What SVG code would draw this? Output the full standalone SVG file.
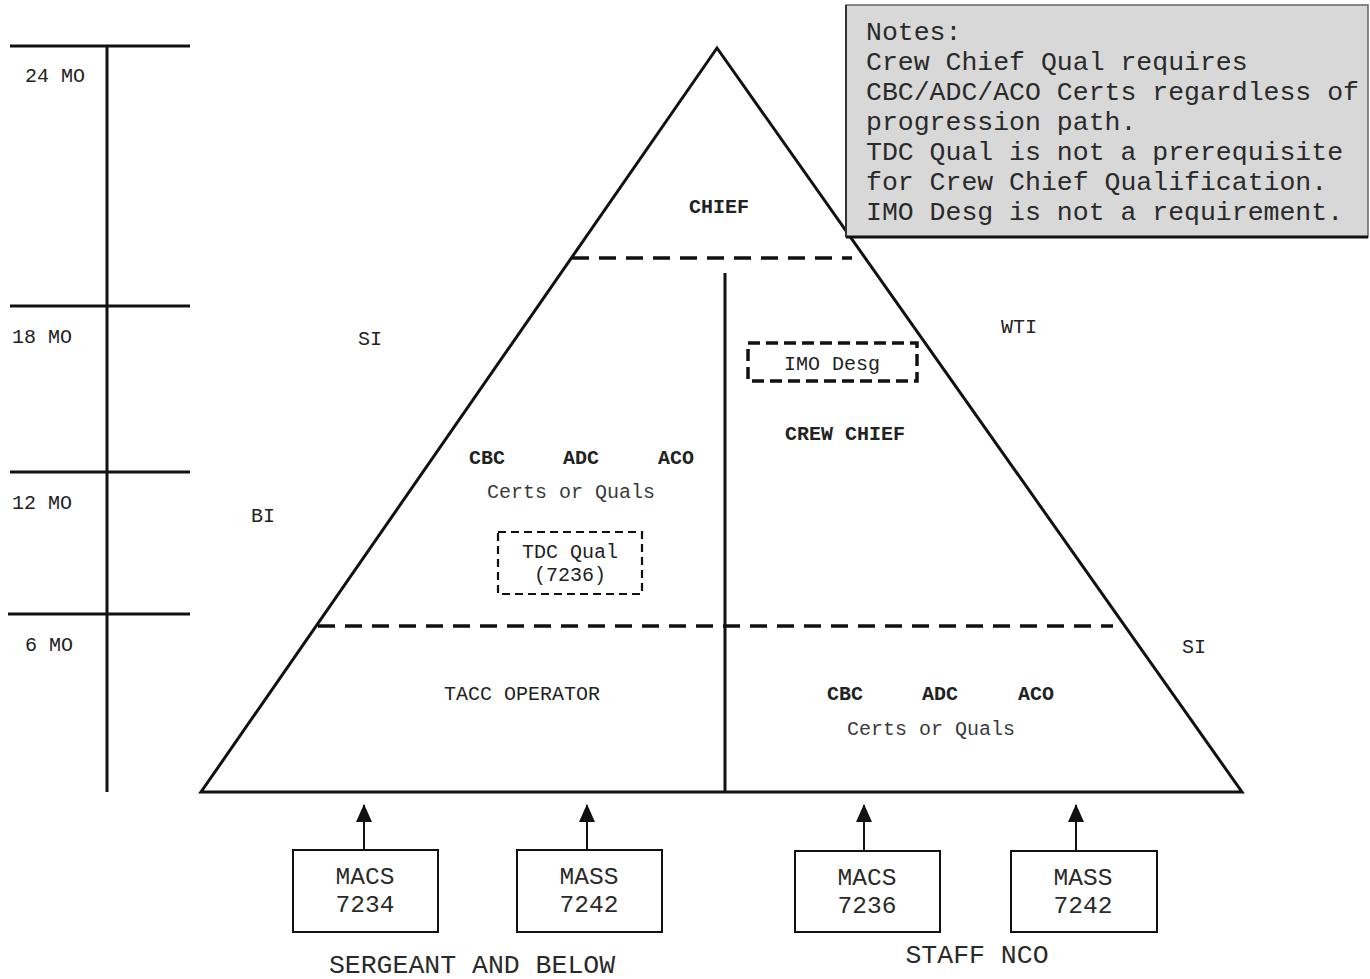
<svg xmlns="http://www.w3.org/2000/svg" width="1370" height="979" viewBox="0 0 1370 979">
<defs>
<marker id="arr" viewBox="0 0 18 16" refX="17" refY="8" markerWidth="18" markerHeight="16" markerUnits="userSpaceOnUse" orient="auto">
<path d="M0,0 L18,8 L0,16 Z" fill="#111"/>
</marker>
<style>
text{font-family:"Liberation Mono","Courier New",monospace;fill:#222}
.s{font-size:20px}
.b{font-size:20px;font-weight:bold}
.l{font-size:26.5px;fill:#2a2a2a}
.bx{font-size:24.5px;fill:#2a2a2a}
.m{text-anchor:middle}
.g{fill:#3a3a3a}
.ln{stroke:#111;stroke-width:3;fill:none}
.dash{stroke:#111;stroke-width:3.5;stroke-dasharray:17 10;fill:none}
.box{fill:#fff;stroke:#111;stroke-width:2}
.con{stroke:#111;stroke-width:2}
</style>
</defs>
<rect width="1370" height="979" fill="#fff"/>

<g id="timeline">
<line class="ln" x1="107" y1="46" x2="107" y2="792"/>
<line class="ln" x1="10" y1="46" x2="190" y2="46"/>
<line class="ln" x1="10" y1="306" x2="190" y2="306"/>
<line class="ln" x1="10" y1="472" x2="190" y2="472"/>
<line class="ln" x1="8" y1="614" x2="190" y2="614"/>
<text class="s" x="25" y="82">24 MO</text>
<text class="s" x="12" y="343">18 MO</text>
<text class="s" x="12" y="509">12 MO</text>
<text class="s" x="25" y="651">6 MO</text>
</g>

<g id="pyramid">
<path class="ln" d="M717,48 L1242,792 L201,792 Z" stroke-linejoin="miter"/>
<line class="dash" x1="572" y1="258" x2="852" y2="258"/>
<line class="dash" x1="318" y1="626" x2="1113" y2="626"/>
<line class="ln" x1="725" y1="273" x2="725" y2="792"/>
</g>

<g id="chief"><text class="b m" x="719" y="213">CHIEF</text></g>
<g id="si-left"><text class="s m" x="370" y="345">SI</text></g>
<g id="wti"><text class="s m" x="1019" y="333">WTI</text></g>
<g id="bi"><text class="s m" x="263" y="522">BI</text></g>
<g id="si-right"><text class="s m" x="1194" y="653">SI</text></g>

<g id="imo-desg">
<rect x="748" y="343" width="169" height="38" fill="none" stroke="#111" stroke-width="3.5" stroke-dasharray="12 6"/>
<text class="s m" x="832" y="370">IMO Desg</text>
</g>
<g id="crew-chief"><text class="b m" x="845" y="440">CREW CHIEF</text></g>

<g id="certs-upper">
<text class="b m" x="487" y="464">CBC</text>
<text class="b m" x="581" y="464">ADC</text>
<text class="b m" x="676" y="464">ACO</text>
<text class="s m g" x="571" y="498">Certs or Quals</text>
</g>

<g id="tdc-qual">
<rect x="498" y="532" width="144" height="62" fill="none" stroke="#111" stroke-width="2.2" stroke-dasharray="8 5"/>
<text class="s m" x="570" y="558">TDC Qual</text>
<text class="s m" x="570" y="581">(7236)</text>
</g>

<g id="tacc-operator"><text class="s m" x="522" y="700">TACC OPERATOR</text></g>

<g id="certs-lower">
<text class="b m" x="845" y="700">CBC</text>
<text class="b m" x="940" y="700">ADC</text>
<text class="b m" x="1036" y="700">ACO</text>
<text class="s m g" x="931" y="735">Certs or Quals</text>
</g>

<g id="notes">
<rect x="846" y="5" width="522" height="232" fill="#d8d8d8" stroke="#666" stroke-width="1.5"/>
<line x1="846" y1="237" x2="1368" y2="237" stroke="#111" stroke-width="3"/>
<line x1="846" y1="5" x2="846" y2="237" stroke="#333" stroke-width="2"/>
<text class="l" x="866" y="40">Notes:</text>
<text class="l" x="866" y="70">Crew Chief Qual requires</text>
<text class="l" x="866" y="100">CBC/ADC/ACO Certs regardless of</text>
<text class="l" x="866" y="130">progression path.</text>
<text class="l" x="866" y="160">TDC Qual is not a prerequisite</text>
<text class="l" x="866" y="190">for Crew Chief Qualification.</text>
<text class="l" x="866" y="220">IMO Desg is not a requirement.</text>
</g>

<g id="macs-7234">
<rect class="box" x="293" y="850" width="145" height="82"/>
<text class="bx m" x="365" y="884">MACS</text>
<text class="bx m" x="365" y="912">7234</text>
</g>
<g id="mass-7242-a">
<rect class="box" x="517" y="850" width="145" height="82"/>
<text class="bx m" x="589" y="884">MASS</text>
<text class="bx m" x="589" y="912">7242</text>
</g>
<g id="macs-7236">
<rect class="box" x="795" y="851" width="145" height="81"/>
<text class="bx m" x="867" y="885">MACS</text>
<text class="bx m" x="867" y="913">7236</text>
</g>
<g id="mass-7242-b">
<rect class="box" x="1011" y="851" width="146" height="81"/>
<text class="bx m" x="1083" y="885">MASS</text>
<text class="bx m" x="1083" y="913">7242</text>
</g>

<g id="sergeant-label"><text class="l m" x="472" y="973">SERGEANT AND BELOW</text></g>
<g id="staff-nco-label"><text class="l m" x="977" y="963">STAFF NCO</text></g>

<g id="connectors">
<line class="con" x1="364" y1="850" x2="364" y2="805" marker-end="url(#arr)"/>
<line class="con" x1="587" y1="850" x2="587" y2="805" marker-end="url(#arr)"/>
<line class="con" x1="864" y1="851" x2="864" y2="805" marker-end="url(#arr)"/>
<line class="con" x1="1076" y1="851" x2="1076" y2="805" marker-end="url(#arr)"/>
</g>
</svg>
